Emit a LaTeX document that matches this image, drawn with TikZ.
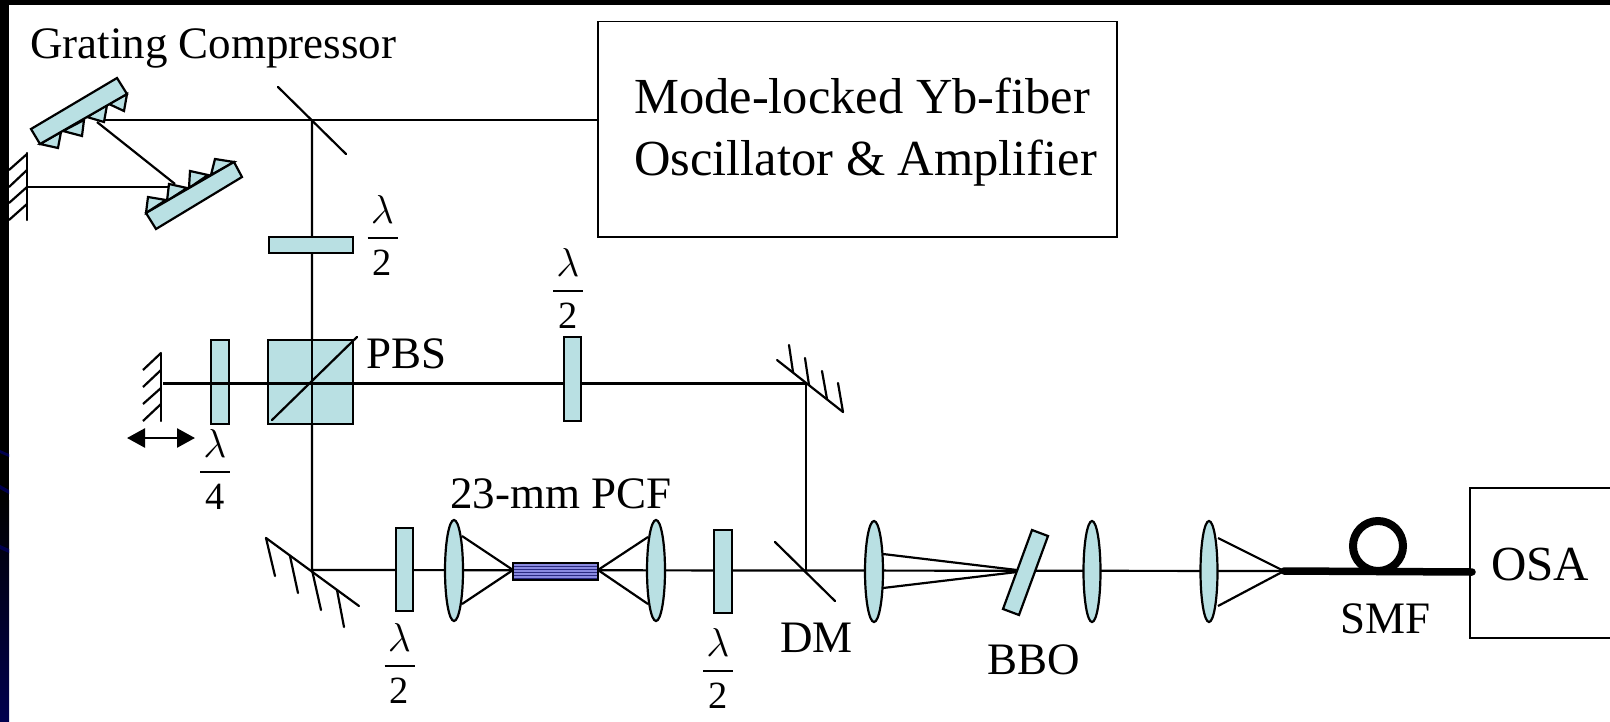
\documentclass[tikz,border=0pt]{standalone}
\usepackage{fontspec}
\usepackage{graphicx}
\usepackage{amsmath}
\setmainfont{Liberation Serif}
\usetikzlibrary{arrows.meta}
\definecolor{optic}{HTML}{B9E0E3}
\definecolor{pcfblue}{HTML}{8A8AE0}
\definecolor{pcfline}{HTML}{2A2A80}
\definecolor{navyedge}{HTML}{00004E}
\tikzset{
  beam/.style={draw=black,line width=2.2pt},
  opticbox/.style={draw=black,fill=optic,line width=2.2pt,line join=miter},
  mirrorline/.style={draw=black,line width=2.2pt,line cap=round},
  framebox/.style={draw=black,line width=1.9pt},
  lbl/.style={inner sep=0pt,anchor=base west,font=\fontsize{45}{50}\selectfont},
  frac/.style={inner sep=0pt,anchor=base,font=\fontsize{38.5}{44}\selectfont},
}
\newcommand{\wave}[1]{$\displaystyle\genfrac{}{}{1.9pt}{0}{\makebox[30pt]{\rule[-8pt]{0pt}{0pt}\scalebox{1.62}{$\lambda$}}}{\makebox[30pt]{\rule{0pt}{31pt}#1}}$}
\begin{document}
\begin{tikzpicture}[x=1pt,y=-1pt]
\useasboundingbox (0,0) rectangle (1610,721);
% page edge
\fill[white] (0,0) rectangle (1610,721);
\fill[black] (0,0) rectangle (1610,5);
\fill[black] (0,0) rectangle (9,500);
\shade[top color=black,bottom color=navyedge] (0,500) rectangle (9,721);
\fill[navyedge] (0,450) -- (9,454) -- (9,457) -- (0,453) -- cycle;
\fill[navyedge] (0,485) -- (9,490) -- (9,494) -- (0,489) -- cycle;
\fill[navyedge] (0,545) -- (9,549) -- (9,553) -- (0,549) -- cycle;

% beam points
\coordinate (bs) at (312,120);
\coordinate (oscin) at (597.6,120);
\coordinate (g1hit) at (97,122);
\coordinate (g1out) at (97,120);
\coordinate (g2hit) at (175,184);
\coordinate (g2out) at (175,187);
\coordinate (retro) at (27,187);
\coordinate (pbsc) at (312,383.5);
\coordinate (qm) at (163,383.5);
\coordinate (rm) at (806,383.5);
\coordinate (lm) at (312,570);
\coordinate (dm) at (806,570);
\coordinate (fib) at (1284,571);
\coordinate (pcfl) at (513,570);
\coordinate (pcfr) at (598,570);
\coordinate (bbo) at (1017,570);
\coordinate (osaport) at (1472,572);

% beams
\draw[beam] (oscin) -- (g1out);
\draw[beam] (g1hit) -- (g2hit);
\draw[beam] (g2out) -- (retro);
\draw[beam] (bs) -- (pbsc) -- (lm) -- (fib);
\draw[beam] (pbsc) -- (rm) -- (dm);

% oscillator
\node[framebox,minimum width=519.4pt,minimum height=215.5pt,inner sep=0pt] (osc) at (857.3,129.2) {};
\node[lbl,font=\fontsize{50.5}{55}\selectfont] (osctext1) at (634,113) {Mode-locked Yb-fiber};
\node[lbl,font=\fontsize{50.5}{55}\selectfont] (osctext2) at (634,175) {Oscillator \& Amplifier};
\node[lbl,font=\fontsize{45}{50}\selectfont] (gc) at (30,58) {Grating Compressor};

% beam splitter
\draw[mirrorline] (278,87) -- (346,154);

% grating 1
\draw[opticbox] (40,144) -- (58,148) -- (61,132) -- cycle;
\draw[opticbox] (63,131) -- (82,136) -- (84,120) -- cycle;
\draw[opticbox] (87,117) -- (104,122) -- (107,105) -- cycle;
\draw[opticbox] (109,104) -- (124,111) -- (127,94) -- cycle;
\draw[opticbox] (117,78) -- (127,94) -- (40,144) -- (31,129) -- cycle;
% grating 2
\draw[opticbox] (146,213) -- (148,197) -- (166,200) -- cycle;
\draw[opticbox] (167,201) -- (169,184) -- (187,188) -- cycle;
\draw[opticbox] (189,188) -- (190,171) -- (208,175) -- cycle;
\draw[opticbox] (211,175) -- (215,159) -- (234,162) -- cycle;
\draw[opticbox] (146,213) -- (156,229) -- (242,177) -- (234,162) -- cycle;

% retro mirror
\draw[mirrorline] (27,153) -- (27,220);
\draw[beam] (9,170) -- (27,154);
\draw[beam] (9,187) -- (27,170);
\draw[beam] (9,203) -- (27,187);
\draw[beam] (9,220) -- (27,204);

% wave plates
\draw[opticbox] (269,237) rectangle (353,253);
\node[frac] (l1) at (382.5,244) {\wave{2}};
\draw[opticbox] (564,337) rectangle (581,421);
\node[frac] (l2) at (568,297) {\wave{2}};
\draw[opticbox] (211,340) rectangle (229,424);
\draw[opticbox] (396,528) rectangle (413,611);
\node[frac] (l3) at (399.5,672) {\wave{2}};
\draw[opticbox] (714,530) rectangle (732,613);
\node[frac] (l4) at (718,677) {\wave{2}};
\node[frac] (l5) at (215,478) {\wave{4}};

% PBS
\draw[opticbox] (268,340) rectangle (353,424);
\draw[beam] (qm) -- (353,383.5);
\draw[beam] (312,340) -- (312,424);
\draw[mirrorline] (272,420) -- (357,337);
\node[lbl] (pbs) at (366,368) {PBS};

% translated mirror
\draw[mirrorline] (161,353) -- (161,421);
\draw[beam] (143,370) -- (161,353);
\draw[beam] (143,387) -- (161,370);
\draw[beam] (143,404) -- (161,388);
\draw[beam] (143,421) -- (161,404);
\draw[{Triangle[length=18pt,width=19pt]}-{Triangle[length=18pt,width=19pt]},line width=2.6pt] (127,438) -- (195,438);

% right mirror
\draw[mirrorline] (777,360) -- (843,412);
\draw[mirrorline] (793,372) -- (789,345);
\draw[mirrorline] (809,385) -- (805,358);
\draw[mirrorline] (827,399) -- (822,371);
\draw[mirrorline] (843,412) -- (838,383);

% lower-left mirror
\draw[mirrorline] (266,538) -- (359,606);
\draw[mirrorline] (266,538) -- (275,576);
\draw[mirrorline] (290,556) -- (298,593);
\draw[mirrorline] (312,570) -- (321,610);
\draw[mirrorline] (337,590) -- (344,627);

% DM
\draw[mirrorline] (775,542) -- (835,601);
\node[lbl] (dmt) at (780,652) {DM};

% rays
\draw[beam] (462,536) -- (pcfl) -- (462,604);
\draw[beam] (648,537) -- (pcfr) -- (648,604);
\draw[beam] (883,554) -- (bbo);
\draw[beam] (883,588) -- (1017,572);
\draw[beam] (1218,538) -- (fib) -- (1218,606);

% lenses
\draw[opticbox] (454,570.5) ellipse [x radius=9pt,y radius=50.5pt];
\draw[opticbox] (656,570.5) ellipse [x radius=9pt,y radius=50.5pt];
\draw[opticbox] (874,571.5) ellipse [x radius=9pt,y radius=50.5pt];
\draw[opticbox] (1092,571.5) ellipse [x radius=8.5pt,y radius=50.5pt];
\draw[opticbox] (1209,571.5) ellipse [x radius=8.5pt,y radius=50.5pt];

% PCF
\fill[pcfblue] (513,563) rectangle (598,580);
\foreach \yy in {566,569,572,575,578} \draw[pcfline,line width=.7pt] (513,\yy) -- (598,\yy);
\draw[draw=black,line width=2.2pt] (513,563) rectangle (598,580);
\node[lbl] (pcft) at (450,508) {23-mm PCF};

% BBO
\draw[opticbox] (1032,530) -- (1048,536) -- (1019,615) -- (1003,609) -- cycle;
\node[lbl] (bbot) at (987,674) {BBO};

% fibre
\draw[line width=8pt] (1378,546) circle (25pt);
\draw[line width=7.5pt,line cap=round] (fib) -- (osaport);
\node[lbl] (smf) at (1340,633) {SMF};

% OSA
\draw[framebox] (1610,488) -- (1470,488) -- (1470,638) -- (1610,638);
\node[lbl,font=\fontsize{49}{54}\selectfont] (osa) at (1491,580) {OSA};
\end{tikzpicture}
\end{document}
